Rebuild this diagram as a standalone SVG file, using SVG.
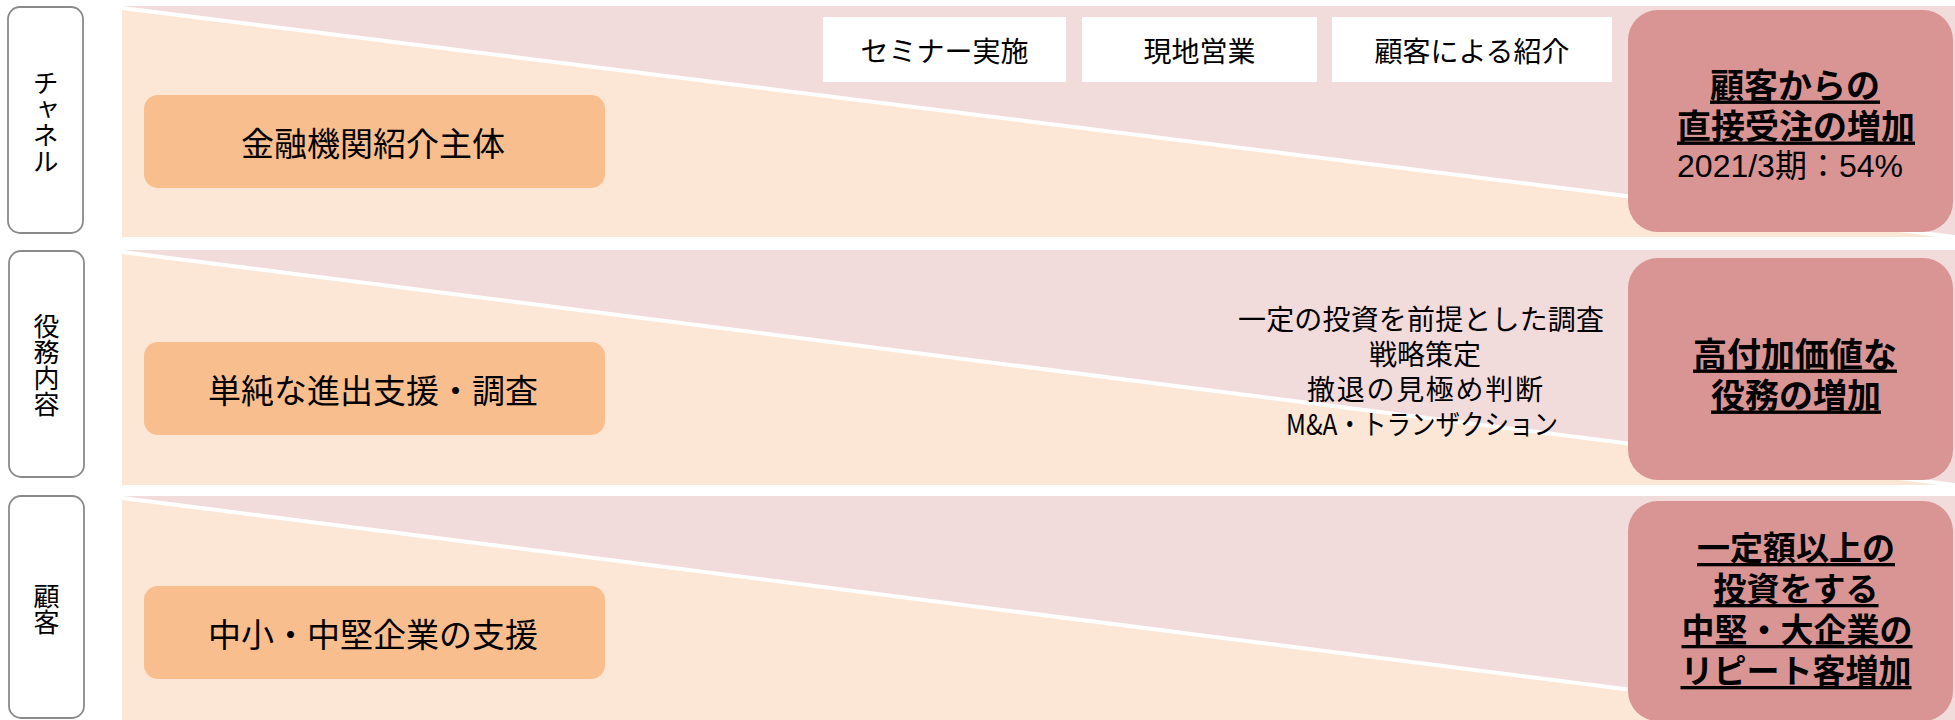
<svg xmlns="http://www.w3.org/2000/svg" width="1955" height="720" viewBox="0 0 1955 720">
<style>
text{font-family:"Noto Sans CJK JP","Noto Sans",sans-serif;fill:#000;dominant-baseline:central;text-anchor:middle}
.band{fill:#FCE7D6}
.tri{fill:#F2DBDB}
.diag{stroke:#fff;stroke-width:4;fill:none}
.label{fill:#fff;stroke:#8a8a8a;stroke-width:1.8}
.lt{font-size:26px;writing-mode:vertical-rl;text-orientation:upright}
.orange{fill:#F9BE8E}
.ot{font-size:33px}
.wbox{fill:#fff}
.wt{font-size:28px}
.red{fill:#D99594}
.rt{font-size:33px;font-weight:bold;text-decoration:underline}
.mt{font-size:28px}
</style>
<rect width="1955" height="720" fill="#fff"/>

<g id="row1-bg">
<rect class="band" x="122" y="6" width="1833" height="231"/>
<polygon class="tri" points="122,6 1955,6 1955,237"/>
<line class="diag" x1="122" y1="8" x2="1955" y2="237"/>
</g>
<g id="row2-bg">
<rect class="band" x="122" y="250" width="1833" height="235"/>
<polygon class="tri" points="122,250 1955,250 1955,485"/>
<line class="diag" x1="122" y1="252" x2="1955" y2="485"/>
</g>
<g id="row3-bg">
<rect class="band" x="122" y="496" width="1833" height="235"/>
<polygon class="tri" points="122,496 1955,496 1955,731"/>
<line class="diag" x1="122" y1="498" x2="1955" y2="731"/>
</g>

<g id="label-channel">
<rect class="label" x="8" y="7" width="75" height="226" rx="12"/>
<text class="lt" x="45.5" y="122">チャネル</text>
</g>
<g id="label-service">
<rect class="label" x="9" y="251" width="75" height="226" rx="12"/>
<text class="lt" x="46.5" y="365">役務内容</text>
</g>
<g id="label-customer">
<rect class="label" x="9" y="496" width="75" height="222" rx="12"/>
<text class="lt" x="46.5" y="609">顧客</text>
</g>

<g id="node-channel-from">
<rect class="orange" x="144" y="95" width="461" height="93" rx="14"/>
<text class="ot" x="373" y="142">金融機関紹介主体</text>
</g>
<g id="node-service-from">
<rect class="orange" x="144" y="342" width="461" height="93" rx="14"/>
<text class="ot" x="373" y="389">単純な進出支援・調査</text>
</g>
<g id="node-customer-from">
<rect class="orange" x="144" y="586" width="461" height="93" rx="14"/>
<text class="ot" x="373" y="633">中小・中堅企業の支援</text>
</g>

<g id="node-seminar">
<rect class="wbox" x="823" y="17" width="243" height="65"/>
<text class="wt" x="944.5" y="49.5">セミナー実施</text>
</g>
<g id="node-local-sales">
<rect class="wbox" x="1082" y="17" width="235" height="65"/>
<text class="wt" x="1199.5" y="49.5">現地営業</text>
</g>
<g id="node-referral">
<rect class="wbox" x="1332" y="17" width="280" height="65"/>
<text class="wt" x="1472" y="49.5">顧客による紹介</text>
</g>

<g id="node-service-items">
<text class="mt" x="1421" y="318" textLength="366" lengthAdjust="spacing">一定の投資を前提とした調査</text>
<text class="mt" x="1425" y="353">戦略策定</text>
<text class="mt" x="1425" y="388" textLength="236" lengthAdjust="spacing">撤退の見極め判断</text>
<text class="mt" x="1422" y="423" textLength="272" lengthAdjust="spacingAndGlyphs">M&amp;A・トランザクション</text>
</g>

<g id="node-channel-to">
<rect class="red" x="1628" y="10" width="325" height="222" rx="30"/>
<text class="rt" x="1795" y="83" style="font-size:34px">顧客からの</text>
<text class="rt" x="1796" y="124" style="font-size:34px">直接受注の増加</text>
<text x="1790" y="166" style="font-family:'Liberation Sans','Noto Sans CJK JP',sans-serif;font-size:32px">2021/3期：54%</text>
</g>
<g id="node-service-to">
<rect class="red" x="1628" y="258" width="325" height="222" rx="30"/>
<text class="rt" x="1795" y="352" style="font-size:34px">高付加価値な</text>
<text class="rt" x="1796" y="393" style="font-size:34px">役務の増加</text>
</g>
<g id="node-customer-to">
<rect class="red" x="1628" y="501" width="325" height="220" rx="30"/>
<text class="rt" x="1796" y="546">一定額以上の</text>
<text class="rt" x="1796" y="587">投資をする</text>
<text class="rt" x="1797" y="628">中堅・大企業の</text>
<text class="rt" x="1796" y="669">リピート客増加</text>
</g>

<g id="connectors"></g>
</svg>
